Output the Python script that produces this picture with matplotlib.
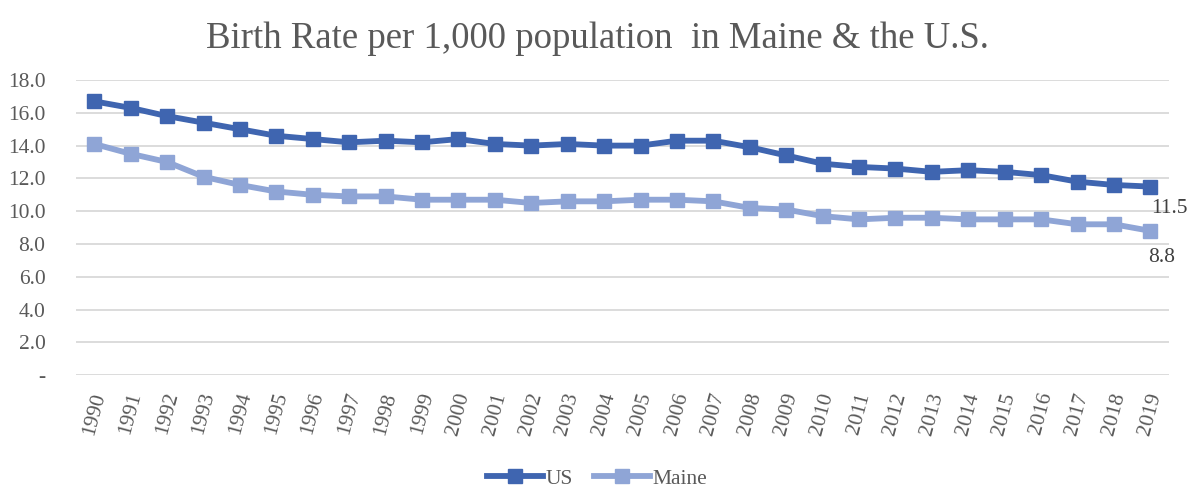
import matplotlib
matplotlib.use("Agg")
import matplotlib.pyplot as plt
from matplotlib.ticker import FuncFormatter

years = [str(y) for y in range(1990, 2020)]
us = [16.7, 16.3, 15.8, 15.4, 15.0, 14.6, 14.4, 14.2, 14.3, 14.2,
      14.4, 14.1, 14.0, 14.1, 14.0, 14.0, 14.3, 14.3, 13.9, 13.4,
      12.9, 12.7, 12.6, 12.4, 12.5, 12.4, 12.2, 11.8, 11.6, 11.5]
maine = [14.1, 13.5, 13.0, 12.1, 11.6, 11.2, 11.0, 10.9, 10.9, 10.7,
         10.7, 10.7, 10.5, 10.6, 10.6, 10.7, 10.7, 10.6, 10.2, 10.1,
         9.7, 9.5, 9.6, 9.6, 9.5, 9.5, 9.5, 9.2, 9.2, 8.8]
title = "Birth Rate per 1,000 population  in Maine & the U.S."

serif = ["Liberation Serif", "DejaVu Serif"]
plt.rcParams["font.family"] = serif
grey = "#595959"
us_color = "#3F65B0"
me_color = "#8FA5D6"

fig = plt.figure(figsize=(11.94, 4.91), dpi=100)
ax = fig.add_axes([0.0637, 0.236, 0.915, 0.601])

x = list(range(len(years)))
ax.plot(x, us, color=us_color, lw=4.2, marker="s", ms=10.5, label="US",
        solid_joinstyle="round", zorder=3)
ax.plot(x, maine, color=me_color, lw=4.2, marker="s", ms=10.5, label="Maine",
        solid_joinstyle="round", zorder=3)

ax.set_xlim(-0.5, len(years) - 0.5)
ax.set_ylim(0, 18)
ax.set_yticks([0, 2, 4, 6, 8, 10, 12, 14, 16, 18])
ax.yaxis.set_major_formatter(FuncFormatter(lambda v, p: "-" if v == 0 else f"{v:.1f}"))
ax.set_xticks(x)
ax.set_xticklabels(years, rotation=75, ha="center", va="top")
ax.grid(axis="y", color="#D9D9D9", lw=1.3)
ax.set_axisbelow(True)
for s in ax.spines.values():
    s.set_visible(False)
ax.tick_params(axis="both", length=0, colors=grey, labelsize=15.5)
ax.tick_params(axis="y", pad=22)
ax.tick_params(axis="x", pad=11)

ax.annotate(f"{us[-1]:.1f}", (x[-1], us[-1]), xytext=(14, -16),
            textcoords="offset points", ha="center", va="center",
            fontsize=15.5, color="#404040")
ax.annotate(f"{maine[-1]:.1f}", (x[-1], maine[-1]), xytext=(8, -19),
            textcoords="offset points", ha="center", va="center",
            fontsize=15.5, color="#404040")

fig.text(0.5, 0.922, title, ha="center", va="center", fontsize=26.5, color=grey)

leg = fig.legend(loc="center", bbox_to_anchor=(0.5, 0.025), ncol=2, frameon=False,
                 fontsize=15.5, handlelength=2.6, columnspacing=1.0, handletextpad=0.1,
                 markerscale=0.9)
for t in leg.get_texts():
    t.set_color(grey)

fig.savefig("out.png", dpi=100)
